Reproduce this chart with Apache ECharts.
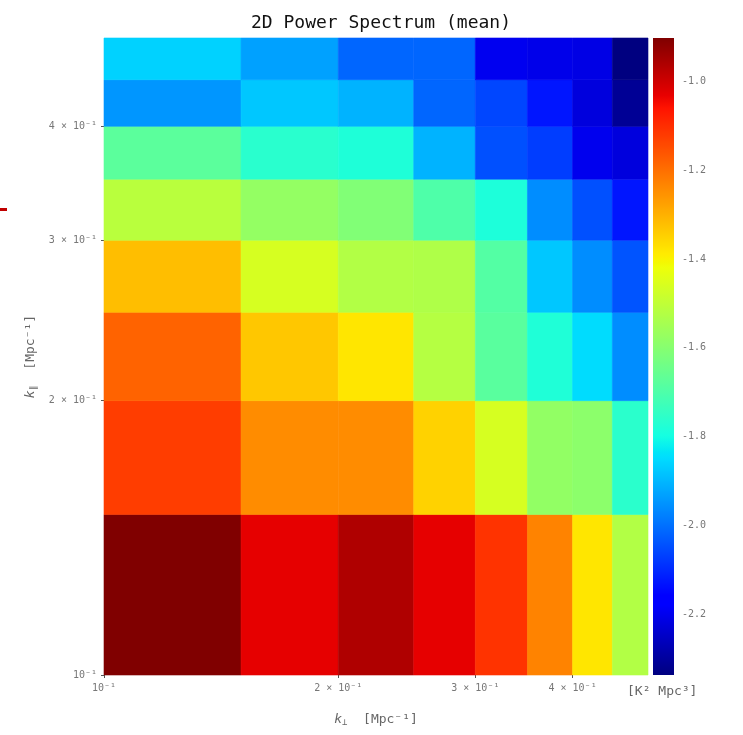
<!DOCTYPE html>
<html>
<head>
<meta charset="utf-8">
<script src="https://cdn.jsdelivr.net/npm/echarts@6/dist/echarts.min.js"></script>
<style>
  html, body { margin: 0; padding: 0; background: #ffffff; }
  #chart { width: 743px; height: 735px; }
</style>
</head>
<body>
<div id="chart"></div>
<script>
// Bin edges (Mpc^-1) for k_perp and k_par
const kPerpEdges = [0.10, 0.15, 0.20, 0.25, 0.30, 0.35, 0.40, 0.45, 0.50];
const kParEdges  = [0.10, 0.15, 0.20, 0.25, 0.30, 0.35, 0.40, 0.45, 0.50];

// Axis ticks and their labels
const kTickValues = [0.1, 0.2, 0.3, 0.4];
const kTickLabels = ['10⁻¹', '2 × 10⁻¹', '3 × 10⁻¹', '4 × 10⁻¹'];
const colorbarTicks = [-2.2, -2.0, -1.8, -1.6, -1.4, -1.2, -1.0];
const colorRange = [-2.336, -0.903];

// log10 of the mean power in each k_par bin, listed along k_perp (low to high)
const power_kpar_010 = [-0.903, -1.029, -0.962, -1.029, -1.110, -1.230, -1.380, -1.525];
const power_kpar_015 = [-1.125, -1.244, -1.244, -1.350, -1.462, -1.580, -1.590, -1.760];
const power_kpar_020 = [-1.183, -1.334, -1.380, -1.520, -1.680, -1.780, -1.849, -1.960];
const power_kpar_025 = [-1.320, -1.462, -1.525, -1.530, -1.690, -1.877, -1.960, -2.040];
const power_kpar_030 = [-1.512, -1.577, -1.610, -1.700, -1.784, -1.960, -2.045, -2.128];
const power_kpar_035 = [-1.677, -1.763, -1.781, -1.906, -2.045, -2.072, -2.200, -2.220];
const power_kpar_040 = [-1.946, -1.877, -1.906, -2.014, -2.059, -2.128, -2.220, -2.310];
const power_kpar_045 = [-1.863, -1.932, -2.014, -2.014, -2.197, -2.204, -2.210, -2.336];

const powerRows = [
  power_kpar_010, power_kpar_015, power_kpar_020, power_kpar_025,
  power_kpar_030, power_kpar_035, power_kpar_040, power_kpar_045
];

// Jet colormap (piecewise-linear channels)
const JET_R = [[0, 0], [0.35, 0], [0.66, 1], [0.89, 1], [1, 0.5]];
const JET_G = [[0, 0], [0.125, 0], [0.375, 1], [0.64, 1], [0.91, 0], [1, 0]];
const JET_B = [[0, 0.5], [0.11, 1], [0.34, 1], [0.65, 0], [1, 0]];
function channel(x, pts) {
  for (let k = 1; k < pts.length; k++) {
    if (x <= pts[k][0]) {
      const [x0, y0] = pts[k - 1], [x1, y1] = pts[k];
      return y0 + (y1 - y0) * (x - x0) / (x1 - x0);
    }
  }
  return pts[pts.length - 1][1];
}
function jet(t) {
  const r = Math.round(255 * channel(t, JET_R));
  const g = Math.round(255 * channel(t, JET_G));
  const b = Math.round(255 * channel(t, JET_B));
  return 'rgb(' + r + ',' + g + ',' + b + ')';
}
const JET_N = 256;
const jetColors = [];
for (let k = 0; k < JET_N; k++) jetColors.push(jet(k / (JET_N - 1)));

// Cells in log10(k) space: [x0, y0, x1, y1, value]
const cells = [];
powerRows.forEach((row, j) => {
  row.forEach((v, i) => {
    cells.push([
      Math.log10(kPerpEdges[i]), Math.log10(kParEdges[j]),
      Math.log10(kPerpEdges[i + 1]), Math.log10(kParEdges[j + 1]), v
    ]);
  });
});

const logTicks = kTickValues.map(v => Math.log10(v));
function kTickFormatter(v) {
  const idx = logTicks.findIndex(t => Math.abs(t - v) < 1e-6);
  return idx >= 0 ? kTickLabels[idx] : '';
}

const FONT = 'DejaVu Sans Mono';
const tickLabelStyle = { color: '#777', fontFamily: FONT, fontSize: 10 };
const nameStyle = {
  fontFamily: FONT, fontSize: 13, color: '#666',
  rich: {
    k: { fontFamily: FONT, fontStyle: 'italic', fontSize: 13, color: '#666' },
    sub: { fontFamily: FONT, fontSize: 9, color: '#666', padding: [6, 0, 0, 0] }
  }
};

const chart = echarts.init(document.getElementById('chart'), null, { renderer: 'canvas' });

chart.setOption({
  animation: false,
  backgroundColor: '#ffffff',
  title: {
    text: '2D Power Spectrum (mean)',
    left: 376, top: 9, textAlign: 'center',
    textStyle: { fontFamily: FONT, fontSize: 18, fontWeight: 'normal', color: '#111' }
  },
  grid: [
    { left: 104, top: 38, width: 544, height: 637 },
    { left: 653, top: 38, width: 21, height: 637 }
  ],
  xAxis: [
    {
      gridIndex: 0, type: 'value',
      min: Math.log10(kPerpEdges[0]), max: Math.log10(kPerpEdges[kPerpEdges.length - 1]),
      axisLine: { show: false },
      splitLine: { show: false },
      axisTick: { show: true, customValues: logTicks, length: 3, lineStyle: { color: '#555' } },
      axisLabel: Object.assign({ customValues: logTicks, formatter: kTickFormatter, margin: 8 }, tickLabelStyle),
      name: '{k|k}{sub|⊥}  [Mpc⁻¹]',
      nameLocation: 'middle', nameGap: 37,
      nameTextStyle: nameStyle
    },
    { gridIndex: 1, type: 'value', min: 0, max: 1, show: false }
  ],
  yAxis: [
    {
      gridIndex: 0, type: 'value',
      min: Math.log10(kParEdges[0]), max: Math.log10(kParEdges[kParEdges.length - 1]),
      axisLine: { show: false },
      splitLine: { show: false },
      axisTick: { show: true, customValues: logTicks, length: 3, lineStyle: { color: '#555' } },
      axisLabel: Object.assign({ customValues: logTicks, formatter: kTickFormatter, margin: 7 }, tickLabelStyle),
      name: '{k|k}{sub|∥}  [Mpc⁻¹]',
      nameLocation: 'middle', nameGap: 65,
      nameTextStyle: nameStyle
    },
    {
      gridIndex: 1, type: 'value', position: 'right',
      min: colorRange[0], max: colorRange[1],
      axisLine: { show: false },
      splitLine: { show: false },
      axisTick: { show: true, customValues: colorbarTicks, length: 5, lineStyle: { color: '#555' } },
      axisLabel: Object.assign({
        customValues: colorbarTicks, margin: 8,
        formatter: v => v.toFixed(1)
      }, tickLabelStyle)
    }
  ],
  visualMap: {
    show: false, type: 'continuous', seriesIndex: 0, dimension: 4,
    min: colorRange[0], max: colorRange[1],
    inRange: { color: jetColors }
  },
  series: [
    {
      type: 'custom', xAxisIndex: 0, yAxisIndex: 0,
      encode: { x: [0, 2], y: [1, 3] },
      data: cells,
      renderItem: function (params, api) {
        const p0 = api.coord([api.value(0), api.value(3)]);
        const p1 = api.coord([api.value(2), api.value(1)]);
        const c = api.visual('color');
        return {
          type: 'rect',
          shape: { x: p0[0], y: p0[1], width: p1[0] - p0[0], height: p1[1] - p0[1] },
          style: { fill: c, stroke: c, lineWidth: 0.6 }
        };
      }
    },
    {
      // colorbar
      type: 'custom', xAxisIndex: 1, yAxisIndex: 1,
      encode: { x: [0, 2], y: [1, 3] },
      data: [[0, colorRange[0], 1, colorRange[1]]],
      renderItem: function (params, api) {
        const p0 = api.coord([api.value(0), api.value(3)]);
        const p1 = api.coord([api.value(2), api.value(1)]);
        const stops = jetColors.map((c, k) => ({ offset: 1 - k / (JET_N - 1), color: c })).reverse();
        return {
          type: 'rect',
          shape: { x: p0[0], y: p0[1], width: p1[0] - p0[0], height: p1[1] - p0[1] },
          style: { fill: new echarts.graphic.LinearGradient(0, 0, 0, 1, stops) }
        };
      }
    }
  ],
  graphic: [
    {
      type: 'text', left: 627, top: 685,
      style: { text: '[K² Mpc³]', fontFamily: FONT, fontSize: 13, fill: '#666' }
    },
    {
      type: 'rect', left: 0, top: 208,
      shape: { width: 7, height: 3 },
      style: { fill: '#c00000' }
    }
  ]
});
</script>
</body>
</html>
